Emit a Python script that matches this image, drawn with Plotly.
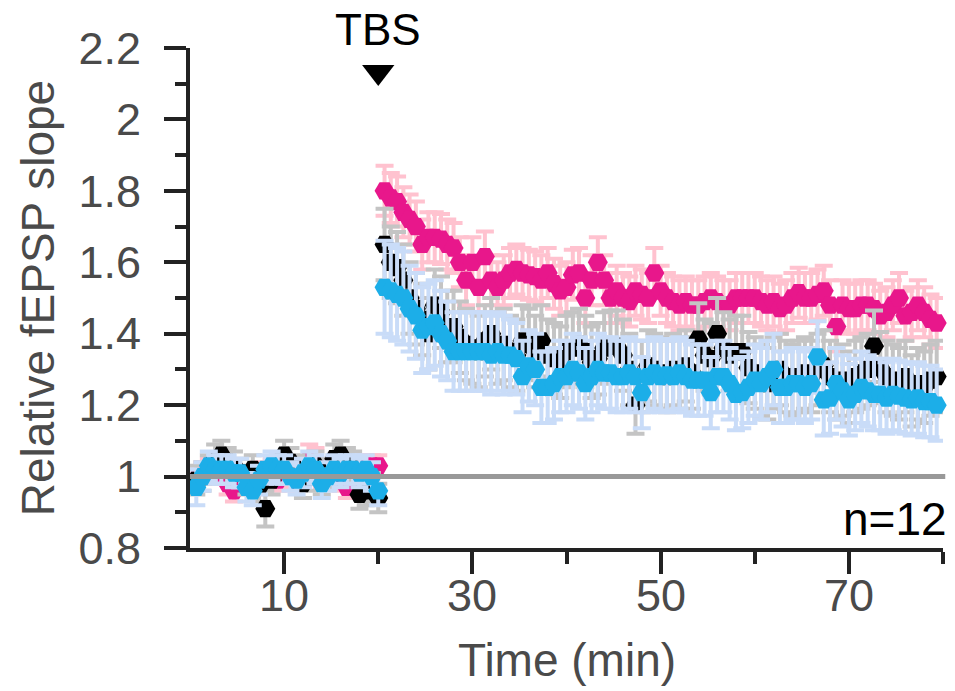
import plotly.graph_objects as go

# Sampling grid: one point every 40 s (2/3 min) from 0.67 to 79.33 min
time_min = [round(k * 2 / 3, 2) for k in range(1, 120)]

# ---- pink (magenta) series ----
pink_base = [0.99, 1.01, 1.02, 1.01, 1.00, 0.98, 0.96, 0.99, 1.00, 0.98,
             1.01, 1.00, 1.02, 0.99, 1.01, 1.00, 0.99, 1.01, 1.05, 1.04,
             1.00, 1.01, 1.02, 0.99, 0.97, 0.99, 1.02, 1.03, 1.03, 1.03]
pink_post = [1.80, 1.78, 1.77, 1.74, 1.72, 1.70, 1.65, 1.67, 1.67, 1.665,
             1.65, 1.64, 1.60, 1.55, 1.60, 1.53, 1.616, 1.55, 1.53, 1.55,
             1.57, 1.58, 1.57, 1.565, 1.56, 1.55, 1.57, 1.54, 1.52, 1.53,
             1.565, 1.57, 1.50, 1.55, 1.60, 1.55, 1.50, 1.52, 1.50, 1.49,
             1.52, 1.51, 1.50, 1.57, 1.52, 1.50, 1.49, 1.48, 1.49, 1.48,
             1.48, 1.49, 1.50, 1.49, 1.48, 1.48, 1.50, 1.50, 1.50, 1.50,
             1.49, 1.48, 1.49, 1.47, 1.48, 1.50, 1.515, 1.50, 1.50, 1.51,
             1.52, 1.48, 1.42, 1.48, 1.47, 1.47, 1.48, 1.48, 1.47, 1.45,
             1.46, 1.48, 1.50, 1.45, 1.46, 1.48, 1.46, 1.44, 1.43]
pink_err_base = [0.03, 0.03, 0.03, 0.03, 0.02, 0.03, 0.03, 0.03, 0.02, 0.03,
                 0.03, 0.03, 0.03, 0.03, 0.02, 0.03, 0.03, 0.03, 0.04, 0.04,
                 0.03, 0.03, 0.03, 0.03, 0.03, 0.03, 0.03, 0.03, 0.03, 0.03]
pink_err_post = [0.07, 0.07, 0.07, 0.07, 0.07, 0.07, 0.07, 0.07, 0.07, 0.07,
                 0.07, 0.07, 0.07, 0.07, 0.07, 0.07, 0.07, 0.07, 0.07, 0.07,
                 0.07, 0.07, 0.07, 0.07, 0.07, 0.07, 0.07, 0.07, 0.07, 0.07,
                 0.07, 0.07, 0.07, 0.07, 0.07, 0.07, 0.07, 0.07, 0.07, 0.07,
                 0.07, 0.07, 0.07, 0.07, 0.07, 0.07, 0.07, 0.07, 0.07, 0.07,
                 0.07, 0.07, 0.07, 0.07, 0.07, 0.07, 0.07, 0.07, 0.07, 0.07,
                 0.07, 0.07, 0.07, 0.07, 0.07, 0.07, 0.07, 0.07, 0.07, 0.07,
                 0.07, 0.07, 0.07, 0.07, 0.07, 0.07, 0.07, 0.07, 0.07, 0.07,
                 0.07, 0.07, 0.07, 0.07, 0.07, 0.07, 0.07, 0.07, 0.07]

# ---- black series ----
black_base = [0.99, 1.00, 1.02, 1.05, 1.06, 1.04, 1.03, 1.01, 0.99, 1.02,
              0.97, 0.91, 0.99, 1.02, 1.06, 1.04, 1.02, 0.98, 1.00, 1.03,
              0.99, 1.01, 1.05, 1.06, 1.04, 1.03, 0.95, 0.96, 0.97, 0.94]
black_post = [1.65, 1.60, 1.585, 1.55, 1.50, 1.47, 1.44, 1.40, 1.48, 1.46,
              1.42, 1.42, 1.39, 1.37, 1.36, 1.35, 1.38, 1.40, 1.36, 1.37,
              1.35, 1.34, 1.38, 1.37, 1.35, 1.38, 1.34, 1.33, 1.32, 1.35,
              1.36, 1.37, 1.35, 1.32, 1.33, 1.36, 1.365, 1.365, 1.34, 1.30,
              1.20, 1.28, 1.31, 1.30, 1.29, 1.28, 1.30, 1.29, 1.31, 1.29,
              1.385, 1.34, 1.33, 1.40, 1.36, 1.34, 1.35, 1.35, 1.305, 1.29,
              1.27, 1.26, 1.29, 1.30, 1.28, 1.27, 1.28, 1.29, 1.28, 1.30,
              1.31, 1.28, 1.26, 1.27, 1.25, 1.28, 1.29, 1.30, 1.365, 1.305,
              1.28, 1.27, 1.26, 1.28, 1.24, 1.26, 1.25, 1.27, 1.28]
black_err_base = [0.04, 0.04, 0.04, 0.04, 0.04, 0.04, 0.04, 0.04, 0.04, 0.04,
                  0.04, 0.05, 0.04, 0.04, 0.04, 0.04, 0.04, 0.04, 0.04, 0.04,
                  0.04, 0.04, 0.04, 0.04, 0.04, 0.04, 0.04, 0.04, 0.04, 0.04]
black_err_post = [0.10, 0.10, 0.10, 0.10, 0.10, 0.10, 0.10, 0.10, 0.10, 0.10,
                  0.10, 0.10, 0.10, 0.10, 0.10, 0.10, 0.10, 0.10, 0.10, 0.10,
                  0.10, 0.10, 0.10, 0.10, 0.10, 0.10, 0.10, 0.10, 0.10, 0.10,
                  0.10, 0.10, 0.10, 0.10, 0.10, 0.10, 0.10, 0.10, 0.10, 0.10,
                  0.08, 0.10, 0.10, 0.10, 0.10, 0.10, 0.10, 0.10, 0.10, 0.10,
                  0.10, 0.10, 0.10, 0.10, 0.10, 0.10, 0.10, 0.10, 0.10, 0.10,
                  0.10, 0.10, 0.10, 0.10, 0.10, 0.10, 0.10, 0.10, 0.10, 0.10,
                  0.10, 0.10, 0.10, 0.10, 0.10, 0.10, 0.10, 0.10, 0.10, 0.10,
                  0.10, 0.10, 0.10, 0.10, 0.10, 0.10, 0.10, 0.10, 0.10]

# ---- blue series ----
blue_base = [0.97, 1.00, 1.03, 1.02, 1.02, 1.02, 1.01, 1.01, 0.97, 0.96,
             0.99, 1.02, 1.03, 1.02, 1.02, 1.00, 0.99, 1.01, 1.03, 1.02,
             0.98, 1.00, 1.02, 1.01, 1.02, 1.02, 1.01, 1.02, 1.00, 0.96]
blue_post = [1.53, 1.52, 1.51, 1.50, 1.47, 1.45, 1.41, 1.42, 1.43, 1.40,
             1.38, 1.35, 1.35, 1.35, 1.35, 1.35, 1.35, 1.34, 1.35, 1.34,
             1.34, 1.33, 1.28, 1.31, 1.30, 1.25, 1.25, 1.26, 1.28, 1.28,
             1.30, 1.29, 1.26, 1.28, 1.30, 1.29, 1.29, 1.28, 1.28, 1.29,
             1.28, 1.235, 1.28, 1.29, 1.28, 1.285, 1.28, 1.29, 1.28, 1.27,
             1.27, 1.27, 1.235, 1.28, 1.28, 1.26, 1.23, 1.235, 1.25, 1.27,
             1.26, 1.28, 1.30, 1.25, 1.25, 1.26, 1.26, 1.25, 1.26, 1.335,
             1.215, 1.22, 1.26, 1.24, 1.215, 1.23, 1.25, 1.24, 1.23, 1.23,
             1.22, 1.23, 1.225, 1.22, 1.215, 1.22, 1.21, 1.21, 1.20]
blue_err_base = [0.05, 0.04, 0.04, 0.04, 0.04, 0.04, 0.04, 0.04, 0.04, 0.04,
                 0.04, 0.04, 0.04, 0.04, 0.04, 0.04, 0.04, 0.04, 0.04, 0.04,
                 0.04, 0.04, 0.04, 0.04, 0.04, 0.04, 0.04, 0.04, 0.04, 0.04]
blue_err_post = [0.13, 0.13, 0.13, 0.13, 0.12, 0.12, 0.12, 0.12, 0.12, 0.12,
                 0.11, 0.11, 0.11, 0.11, 0.11, 0.11, 0.11, 0.11, 0.11, 0.11,
                 0.10, 0.10, 0.10, 0.10, 0.10, 0.10, 0.10, 0.10, 0.10, 0.10,
                 0.10, 0.10, 0.10, 0.10, 0.10, 0.10, 0.10, 0.10, 0.10, 0.10,
                 0.10, 0.10, 0.10, 0.10, 0.10, 0.10, 0.10, 0.10, 0.10, 0.10,
                 0.10, 0.10, 0.10, 0.10, 0.10, 0.10, 0.10, 0.10, 0.10, 0.10,
                 0.10, 0.10, 0.10, 0.10, 0.10, 0.10, 0.10, 0.10, 0.10, 0.10,
                 0.10, 0.10, 0.10, 0.10, 0.10, 0.10, 0.10, 0.10, 0.10, 0.10,
                 0.10, 0.10, 0.10, 0.10, 0.10, 0.10, 0.10, 0.10, 0.10]

y_ticks = [0.8, 1.0, 1.2, 1.4, 1.6, 1.8, 2.0, 2.2]
y_ticktext = ["0.8", "1", "1.2", "1.4", "1.6", "1.8", "2", "2.2"]
y_minor = [0.9, 1.1, 1.3, 1.5, 1.7, 1.9, 2.1]
x_ticks = [10, 30, 50, 70]
x_ticktext = ["10", "30", "50", "70"]
x_minor = [20, 40, 60, 80]
x_title = "Time (min)"
y_title = "Relative fEPSP slope"
tbs_time = 20
baseline_level = 1.0

series = [
    (pink_base + pink_post, pink_err_base + pink_err_post, "#E8178B", "#FFC2CF"),
    (black_base + black_post, black_err_base + black_err_post, "#000000", "#C4C4C4"),
    (blue_base + blue_post, blue_err_base + blue_err_post, "#1CAEE8", "#C9DCF8"),
]

fig = go.Figure()
for vals, errs, col, ecol in series:
    fig.add_trace(go.Scatter(
        x=time_min, y=vals, mode="markers", cliponaxis=False,
        marker=dict(symbol="hexagon2", size=20, color=col, line=dict(width=0)),
        error_y=dict(type="data", array=errs, visible=True, color=ecol,
                     thickness=4, width=9),
        showlegend=False, hoverinfo="skip",
    ))

# TBS arrow marker
fig.add_trace(go.Scatter(
    x=[tbs_time], y=[2.133], mode="markers", cliponaxis=False,
    marker=dict(symbol="triangle-down", size=28, color="#000000"),
    showlegend=False, hoverinfo="skip",
))

fig.add_shape(type="line", xref="paper", x0=0, x1=1.003, yref="y",
              y0=baseline_level, y1=baseline_level,
              line=dict(color="#999999", width=5), layer="above")

font_family = "Liberation Sans, Arial, Helvetica, sans-serif"
axis_col = "#222222"
label_col = "#4a4a4a"

fig.add_annotation(x=tbs_time, y=1.036, xref="x", yref="paper", text="TBS",
                   showarrow=False, yanchor="middle",
                   font=dict(size=44, color="#000000", family=font_family))
fig.add_annotation(x=1.0, y=0.88, xref="paper", yref="y", text="n=12",
                   showarrow=False, xanchor="right", yanchor="middle", xshift=6,
                   font=dict(size=46, color="#000000", family=font_family))

# x tick labels and x title as text placed below the axis
for xv, xt in zip(x_ticks, x_ticktext):
    fig.add_annotation(x=xv, y=0, xref="x", yref="paper", text=xt,
                       showarrow=False, yanchor="middle", yshift=-47,
                       font=dict(size=45, color=label_col, family=font_family))
fig.add_annotation(x=0.5, y=0, xref="paper", yref="paper", text=x_title,
                   showarrow=False, yanchor="middle", yshift=-112,
                   font=dict(size=46, color=label_col, family=font_family))

fig.update_layout(
    width=955, height=691,
    margin=dict(l=190, r=12, t=48, b=143, autoexpand=False),
    paper_bgcolor="white", plot_bgcolor="white",
    hovermode=False,
    font=dict(family=font_family, size=45, color=label_col),
    xaxis=dict(
        range=[0, 80], showgrid=False, zeroline=False,
        showline=True, linewidth=4, linecolor=axis_col,
        ticks="outside", tickmode="array", tickvals=x_ticks,
        showticklabels=False,
        ticklen=22, tickwidth=4, tickcolor=axis_col,
        minor=dict(tickmode="array", tickvals=x_minor, ticks="outside",
                   ticklen=12, tickwidth=4, tickcolor=axis_col),
    ),
    yaxis=dict(
        range=[0.8, 2.2], showgrid=False, zeroline=False,
        showline=True, linewidth=4, linecolor=axis_col,
        ticks="outside", tickmode="array", tickvals=y_ticks, ticktext=y_ticktext,
        ticklen=22, tickwidth=4, tickcolor=axis_col,
        minor=dict(tickmode="array", tickvals=y_minor, ticks="outside",
                   ticklen=11, tickwidth=4, tickcolor=axis_col),
        tickfont=dict(size=45, color=label_col),
        ticklabelstandoff=14,
        title=dict(text=y_title, standoff=10,
                   font=dict(size=46, color=label_col)),
    ),
)

fig.write_html(
    "out.html",
    config={"displayModeBar": False},
    post_script="document.body.style.margin='0';document.body.style.overflow='hidden';",
)
